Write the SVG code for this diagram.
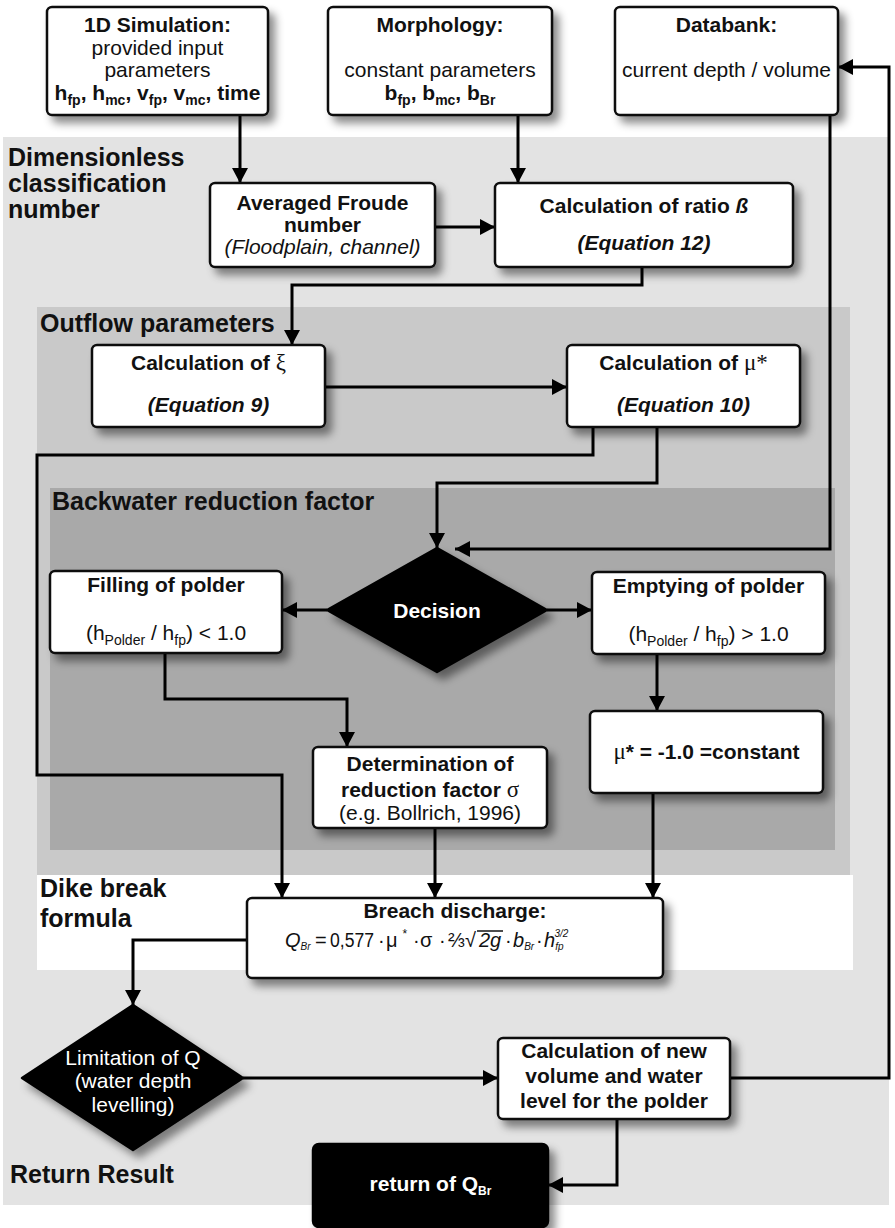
<svg xmlns="http://www.w3.org/2000/svg" width="895" height="1228" viewBox="0 0 895 1228">
<defs>
<filter id="sh" x="-10%" y="-10%" width="130%" height="140%">
<feDropShadow dx="6" dy="7" stdDeviation="4" flood-color="#000" flood-opacity="0.45"/>
</filter>
<marker id="ar" viewBox="0 0 10 10" refX="10" refY="5" markerWidth="15" markerHeight="16" markerUnits="userSpaceOnUse" orient="auto" preserveAspectRatio="none">
<path d="M0,0 L10,5 L0,10 z" fill="#000"/>
</marker>
<style>
.box{fill:#fff;stroke:#111;stroke-width:2.5;filter:url(#sh)}
.blk{fill:#000;stroke:#000;stroke-width:2.5;stroke-linejoin:round;filter:url(#sh)}
.t{font-family:"Liberation Sans",Arial,sans-serif;font-size:21px;fill:#111;text-anchor:middle}
.b{font-weight:bold}
.i{font-style:italic}
.w{fill:#fff}
.hd{font-family:"Liberation Sans",Arial,sans-serif;font-size:25px;font-weight:bold;fill:#111}
.sym{font-family:"Liberation Serif","DejaVu Serif",serif;font-weight:normal}
.conn path{fill:none;stroke:#000;stroke-width:3;marker-end:url(#ar)}
.fx{font-family:"Liberation Sans",Arial,sans-serif;font-size:20px;fill:#111}
</style>
</defs>
<rect width="895" height="1228" fill="#fff"/>
<g id="backgrounds">
<rect x="3" y="137" width="886" height="1068" fill="#e3e3e3"/>
<rect x="37" y="307" width="813" height="568" fill="#c9c9c9"/>
<rect x="50" y="488" width="785" height="362" fill="#a9a9a9"/>
<rect x="37" y="875" width="816" height="95" fill="#fff"/>
</g>
<g id="section-labels">
<text class="hd" x="8" y="166" font-size="24">Dimensionless</text>
<text class="hd" x="8" y="192" font-size="24">classification</text>
<text class="hd" x="8" y="218" font-size="24">number</text>
<text class="hd" x="40" y="332">Outflow parameters</text>
<text class="hd" x="52" y="510">Backwater reduction factor</text>
<text class="hd" x="40" y="897" font-size="24">Dike break</text>
<text class="hd" x="40" y="927" font-size="24">formula</text>
<text class="hd" x="10" y="1183">Return Result</text>
</g>
<g id="connectors" class="conn">
<path d="M240,115 V183"/>
<path d="M518,115 V183"/>
<path d="M435,227 H495"/>
<path d="M830,115 V549 H455"/>
<path d="M642,267 V285 H292 V345"/>
<path d="M325,387 H567"/>
<path d="M593,427 V455 H37 V775 H282 V898"/>
<path d="M657,427 V483 H437 V548"/>
<path d="M327,610 H282"/>
<path d="M547,610 H592"/>
<path d="M165,653 V699 H347 V747"/>
<path d="M657,654 V711"/>
<path d="M435,828 V898"/>
<path d="M653,793 V898"/>
<path d="M247,940 H133 V1005"/>
<path d="M243,1078 H498"/>
<path d="M730,1078 H889 V67 H838"/>
<path d="M617,1119 V1185 H548"/>
</g>
<g id="n-sim">
<rect class="box" x="47" y="7" width="221" height="108" rx="5"/>
<text class="t b" x="157.5" y="32">1D Simulation:</text>
<text class="t" x="157.5" y="55">provided input</text>
<text class="t" x="157.5" y="77">parameters</text>
<text class="t b" x="157.5" y="100">h<tspan font-size="14" dy="5">fp</tspan><tspan dy="-5">, h</tspan><tspan font-size="14" dy="5">mc</tspan><tspan dy="-5">, v</tspan><tspan font-size="14" dy="5">fp</tspan><tspan dy="-5">, v</tspan><tspan font-size="14" dy="5">mc</tspan><tspan dy="-5">, time</tspan></text>
</g>
<g id="n-morph">
<rect class="box" x="328" y="7" width="224" height="108" rx="5"/>
<text class="t b" x="440" y="32">Morphology:</text>
<text class="t" x="440" y="77">constant parameters</text>
<text class="t b" x="440" y="100">b<tspan font-size="14" dy="5">fp</tspan><tspan dy="-5">, b</tspan><tspan font-size="14" dy="5">mc</tspan><tspan dy="-5">, b</tspan><tspan font-size="14" dy="5">Br</tspan></text>
</g>
<g id="n-databank">
<rect class="box" x="615" y="7" width="223" height="108" rx="5"/>
<text class="t b" x="726.5" y="32">Databank:</text>
<text class="t" x="726.5" y="77">current depth / volume</text>
</g>
<g id="n-froude">
<rect class="box" x="210" y="183" width="225" height="84" rx="5"/>
<text class="t b" x="322.5" y="210">Averaged Froude</text>
<text class="t b" x="322.5" y="232">number</text>
<text class="t i" x="322.5" y="254">(Floodplain, channel)</text>
</g>
<g id="n-ratio">
<rect class="box" x="495" y="183" width="298" height="84" rx="5"/>
<text class="t b" x="644" y="213">Calculation of ratio <tspan class="i">ß</tspan></text>
<text class="t b i" x="644" y="250">(Equation 12)</text>
</g>
<g id="n-xi">
<rect class="box" x="92" y="345" width="233" height="82" rx="5"/>
<text class="t b" x="208.5" y="370">Calculation of <tspan class="sym" font-size="23">ξ</tspan></text>
<text class="t b i" x="208.5" y="412">(Equation 9)</text>
</g>
<g id="n-mu">
<rect class="box" x="567" y="345" width="233" height="82" rx="5"/>
<text class="t b" x="683.5" y="370">Calculation of <tspan class="sym" font-size="23">μ*</tspan></text>
<text class="t b i" x="683.5" y="412">(Equation 10)</text>
</g>
<g id="n-decision">
<path class="blk" d="M437,548 L547,610 L437,672 L327,610 Z"/>
<text class="t b w" x="437" y="618" font-size="25">Decision</text>
</g>
<g id="n-filling">
<rect class="box" x="50" y="571" width="232" height="82" rx="5"/>
<text class="t b" x="166" y="592">Filling of polder</text>
<text class="t" x="166" y="640">(h<tspan font-size="14" dy="5">Polder</tspan><tspan dy="-5"> / h</tspan><tspan font-size="14" dy="5">fp</tspan><tspan dy="-5">) &lt; 1.0</tspan></text>
</g>
<g id="n-emptying">
<rect class="box" x="592" y="572" width="233" height="82" rx="5"/>
<text class="t b" x="708.5" y="593">Emptying of polder</text>
<text class="t" x="708.5" y="641">(h<tspan font-size="14" dy="5">Polder</tspan><tspan dy="-5"> / h</tspan><tspan font-size="14" dy="5">fp</tspan><tspan dy="-5">) &gt; 1.0</tspan></text>
</g>
<g id="n-muconst">
<rect class="box" x="590" y="711" width="233" height="82" rx="5"/>
<text class="t b" x="706.5" y="759"><tspan class="sym" font-size="23">μ</tspan>* = -1.0 =constant</text>
</g>
<g id="n-determination">
<rect class="box" x="313" y="747" width="234" height="81" rx="5"/>
<text class="t b" x="430" y="771">Determination of</text>
<text class="t b" x="430" y="797">reduction factor <tspan class="sym" font-size="23">σ</tspan></text>
<text class="t" x="430" y="820">(e.g. Bollrich, 1996)</text>
</g>
<g id="n-breach">
<rect class="box" x="247" y="898" width="416" height="80" rx="5"/>
<text class="t b" x="455" y="918">Breach discharge:</text>
<text class="fx i" x="285" y="947">Q<tspan font-size="10" dy="3">Br</tspan></text>
<text class="fx" x="315" y="947">=</text>
<text class="fx" x="330" y="947" textLength="44" lengthAdjust="spacingAndGlyphs">0,577</text>
<text class="fx" x="378" y="947">·</text>
<text class="fx sym" x="386" y="947">μ<tspan font-size="12" dx="5" dy="-9">*</tspan></text>
<text class="fx" x="413" y="947">·</text>
<text class="fx sym" x="420" y="947">σ</text>
<text class="fx" x="439" y="947">·</text>
<text class="fx" x="448" y="947" font-size="17">⅔</text>
<text class="fx" x="465" y="947">√</text>
<line x1="477" y1="931" x2="503" y2="931" stroke="#111" stroke-width="1.5"/>
<text class="fx i" x="479" y="947">2g</text>
<text class="fx" x="505" y="947">·</text>
<text class="fx i" x="513" y="947">b<tspan font-size="10" dy="3">Br</tspan></text>
<text class="fx" x="536" y="947">·</text>
<text class="fx i" x="544" y="947">h<tspan font-size="10" dy="3">fp</tspan><tspan font-size="10" dx="-9" dy="-13">3/2</tspan></text>
</g>
<g id="n-limitation">
<path class="blk" d="M133,1005 L243,1078 L133,1150 L22,1078 Z"/>
<text class="t w" x="133" y="1065">Limitation of Q</text>
<text class="t w" x="133" y="1088">(water depth</text>
<text class="t w" x="133" y="1112">levelling)</text>
</g>
<g id="n-newvolume">
<rect class="box" x="498" y="1038" width="232" height="81" rx="5"/>
<text class="t b" x="614" y="1058">Calculation of new</text>
<text class="t b" x="614" y="1083">volume and water</text>
<text class="t b" x="614" y="1108">level for the polder</text>
</g>
<g id="n-return">
<rect class="blk" x="313" y="1144" width="235" height="83" rx="6"/>
<text class="t b w" x="430.5" y="1191" font-size="20">return of Q<tspan font-size="12" dy="4">Br</tspan></text>
</g>
</svg>
